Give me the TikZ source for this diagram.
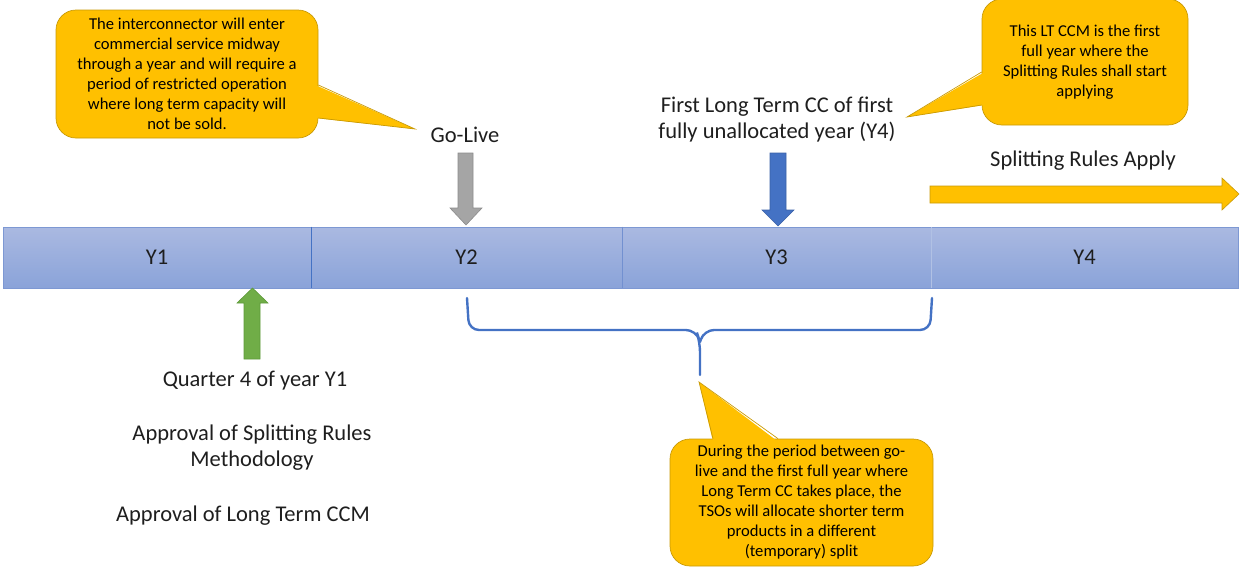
\documentclass[tikz,border=0pt]{standalone}
\usepackage{fontspec}
\setmainfont{Carlito}
\definecolor{txt}{HTML}{1E1E1E}
\definecolor{gold}{HTML}{FFC000}
\definecolor{goldedge}{HTML}{C99A06}
\definecolor{bartop}{HTML}{AAB9E1}
\definecolor{barbot}{HTML}{8AA3D9}
\definecolor{baredge}{HTML}{7D98D3}
\definecolor{blu}{HTML}{4472C4}
\definecolor{gry}{HTML}{A5A5A5}
\definecolor{gryedge}{HTML}{8C8C8C}
\definecolor{grn}{HTML}{70AD47}
\definecolor{grnedge}{HTML}{5E9A3A}
\begin{document}
\begin{tikzpicture}[x=1pt,y=-1pt,
  yearbox/.style={draw=baredge, line width=0.8pt, top color=bartop, bottom color=barbot,
    minimum height=61pt, inner sep=0pt, font=\fontsize{22.5}{26}\selectfont, text=txt},
  lbl/.style={font=\fontsize{22.5}{26}\selectfont, text=txt, align=center, inner sep=0pt},
  callout/.style={fill=gold, draw=goldedge, line width=0.7pt, rounded corners=20pt,
    align=center, font=\fontsize{16.6}{20}\selectfont, text=black, inner sep=0pt},
  pointerfill/.style={fill=gold},
  pointeredge/.style={draw=goldedge, line width=0.7pt, line join=miter},
  blockarrow/.style={line width=0.6pt, line join=miter},
]
\useasboundingbox (0,0) rectangle (1240,568);

% year bar
\node[yearbox, minimum width=308pt] (y1) at (157,257.5) {Y1};
\node[yearbox, minimum width=311pt] (y2) at (466.5,257.5) {Y2};
\node[yearbox, minimum width=309pt] (y3) at (776.5,257.5) {Y3};
\node[yearbox, minimum width=307pt] (y4) at (1084.5,257.5) {Y4};
\draw[blu, line width=1.6pt] (y1.north east) -- (y1.south east);
\draw[baredge!80!blu, line width=0.8pt] (y2.north east) -- (y2.south east);
\draw[baredge!60!white, line width=0.8pt] (y3.north east) -- (y3.south east);

% labels
\node[lbl] (golive) at (465,135) {Go-Live};
\node[lbl] (firstlt) at (777,120) {First Long Term CC of first\\fully unallocated year (Y4)};
\node[lbl] (splitapply) at (1083,161) {Splitting Rules Apply};
\node[lbl] (q4) at (255,381) {Quarter 4 of year Y1};
\node[lbl] (approvsr) at (252,448) {Approval of Splitting Rules\\Methodology};
\node[lbl] (approvlt) at (243,516) {Approval of Long Term CCM};

% block arrows
\filldraw[blockarrow, fill=gry, draw=gryedge] (458,153) -- (473,153) -- (473,208) -- (482,208) -- (466,225) -- (450,208) -- (458,208) -- cycle;
\filldraw[blockarrow, fill=blu, draw=blu!85!black] (770,153) -- (786,153) -- (786,210) -- (794,210) -- (778,226) -- (762,210) -- (770,210) -- cycle;
\filldraw[blockarrow, fill=grn, draw=grnedge] (252.5,288) -- (268,303) -- (260,303) -- (260,359) -- (244,359) -- (244,303) -- (237,303) -- cycle;
\filldraw[blockarrow, fill=gold, draw=goldedge] (930,186) -- (1222,186) -- (1222,178) -- (1239,194) -- (1222,210) -- (1222,203) -- (930,203) -- cycle;

% brace
\coordinate (brL) at (467,298);
\coordinate (brR) at (932,298);
\coordinate (brM) at (700,375);
\draw[blu, line width=2.4pt, line cap=round, rounded corners=10pt]
  (brL) -- (469,330) -- (696,330) -- (700,342) -- (brM);
\draw[blu, line width=2.4pt, line cap=round, rounded corners=10pt]
  (brR) -- (930,330) -- (704,330) -- (700,342);

% callout 1
\node[callout, minimum width=262pt, minimum height=128pt] (c1) at (187,74)
  {The interconnector will enter\\commercial service midway\\through a year and will require a\\period of restricted operation\\where long term capacity will\\not be sold.};
\coordinate (c1tip) at (415,129);
\fill[pointerfill] (c1.east |- 0,85) ++(-3,0) -- (c1tip) -- ([xshift=-3pt]c1.east |- 0,118) -- cycle;
\draw[pointeredge] (c1.east |- 0,85) -- (c1tip) -- (c1.east |- 0,118);

% callout 2
\node[callout, minimum width=206pt, minimum height=126pt] (c2) at (1085,62)
  {This LT CCM is the first\\full year where the\\Splitting Rules shall start\\applying};
\coordinate (c2tip) at (907,117);
\fill[pointerfill] ([xshift=3pt]c2.west |- 0,72) -- (c2tip) -- ([xshift=3pt]c2.west |- 0,105) -- cycle;
\draw[pointeredge] (c2.west |- 0,72) -- (c2tip) -- (c2.west |- 0,105);

% callout 3
\node[callout, minimum width=263pt, minimum height=127pt] (c3) at (801.5,502.5)
  {During the period between go-\\live and the first full year where\\Long Term CC takes place, the\\TSOs will allocate shorter term\\products in a different\\(temporary) split};
\coordinate (c3tip) at (699,382);
\fill[pointerfill] ([yshift=-3pt]713,0 |- c3.north) -- (c3tip) -- ([yshift=-3pt]778,0 |- c3.north) -- cycle;
\draw[pointeredge] (713,0 |- c3.north) -- (c3tip) -- (778,0 |- c3.north);
\end{tikzpicture}
\end{document}
